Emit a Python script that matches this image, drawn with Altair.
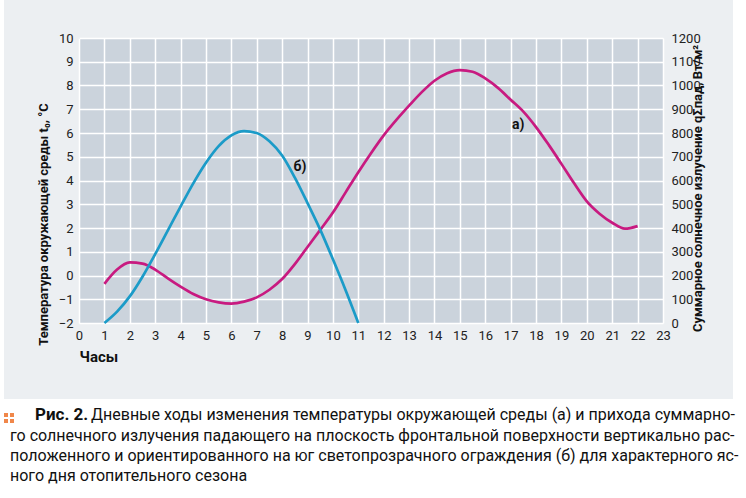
import altair as alt
import pandas as pd

# --- data ---
hours_a = [1, 1.5, 2, 2.5, 3, 3.5, 4, 4.5, 5, 5.5, 6, 6.5, 7, 7.5, 8, 8.5, 9, 9.5,
           10, 10.5, 11, 11.5, 12, 12.5, 13, 13.5, 14, 14.5, 15, 15.5, 16, 16.5,
           17, 17.5, 18, 18.5, 19, 19.5, 20, 20.5, 21, 21.5, 22]
temp_a = [-0.35, 0.25, 0.55, 0.5, 0.25, -0.12, -0.47, -0.78, -1.0, -1.13, -1.18, -1.1,
          -0.92, -0.6, -0.15, 0.48, 1.2, 1.92, 2.65, 3.5, 4.35, 5.15, 5.9, 6.55, 7.15,
          7.72, 8.2, 8.52, 8.65, 8.58, 8.3, 7.9, 7.4, 6.9, 6.25, 5.5, 4.7, 3.88,
          3.12, 2.6, 2.22, 1.97, 2.08]

hours_b = [1, 1.5, 2, 2.5, 3, 3.5, 4, 4.5, 5, 5.5, 6, 6.5, 7, 7.5, 8, 8.5, 9, 9.5,
           10, 10.5, 11]
rad_b = [0, 48, 112, 195, 290, 390, 490, 588, 675, 745, 790, 808, 800, 765, 705,
         612, 505, 393, 268, 138, 0]

label_texts = ["а)", "б)"]
label_hours = [17.3, 8.7]
label_temps = [6.35, 4.55]

x_ticks = list(range(0, 24))
t_ticks = list(range(-2, 11))
q_ticks = list(range(0, 1300, 100))

caption_bold = "Рис. 2."
caption_lines = [
    "Дневные ходы изменения температуры окружающей среды (а) и прихода суммарно-",
    "го солнечного излучения падающего на плоскость фронтальной поверхности вертикально рас-",
    "положенного и ориентированного на юг светопрозрачного ограждения (б) для характерного яс-",
    "ного дня отопительного сезона",
]

FONT = "Roboto"
MAGENTA = "#c81a80"
BLUE = "#1b9bc8"
W, H = 584, 285

df_a = pd.DataFrame({"hour": hours_a, "temp": temp_a})
df_b = pd.DataFrame({"hour": hours_b, "rad": rad_b})
df_lab = pd.DataFrame({"hour": label_hours, "temp": label_temps, "txt": label_texts})
one = pd.DataFrame({"k": [0]})

x_enc = alt.X(
    "hour:Q",
    scale=alt.Scale(domain=[0, 23], nice=False),
    axis=alt.Axis(
        values=x_ticks, format="d", title="Часы", titleX=0, titleY=33, titleAlign="left",
        titleBaseline="middle", titleFont=FONT, titleFontSize=15, titleFontWeight="bold",
        titleColor="#111", labelFont=FONT, labelFontSize=13, labelColor="#222",
        labelPadding=6, ticks=False, domain=False, grid=True, gridColor="white",
        gridWidth=1.5, gridOpacity=1, labelFlush=False, labelOverlap=False,
    ),
)

y_temp = alt.Y(
    "temp:Q",
    scale=alt.Scale(domain=[-2, 10], nice=False),
    axis=alt.Axis(
        values=t_ticks, format="d", title="Температура окружающей среды t₀, °C",
        titleAngle=270, titleX=-36, titleY=186, titleAlign="center",
        titleBaseline="middle", titleFont=FONT, titleFontSize=13,
        titleFontWeight="bold", titleColor="#111", labelFont=FONT, labelFontSize=13,
        labelColor="#222", labelPadding=6, ticks=False, domain=False, grid=True,
        gridColor="white", gridWidth=1.5, gridOpacity=1, labelFlush=False,
        labelOverlap=False,
    ),
)

y_rad = alt.Y(
    "rad:Q",
    scale=alt.Scale(domain=[0, 1200], nice=False),
    axis=alt.Axis(
        orient="right", values=q_ticks, format="d",
        title="Суммарное солнечное излучение qΣпад, Вт/м²",
        titleAngle=270, titleX=34, titleY=150, titleAlign="center",
        titleBaseline="middle", titleFont=FONT, titleFontSize=13,
        titleFontWeight="bold", titleColor="#111", labelFont=FONT, labelFontSize=13,
        labelColor="#222", labelPadding=8, ticks=False, domain=False, grid=False,
        labelFlush=False, labelOverlap=False,
    ),
)

# decorative background pieces (white caption band and margins)
bg_bottom = alt.Chart(one).mark_rect(color="white").encode(
    x=alt.value(-79), x2=alt.value(W + 83), y=alt.value(361), y2=alt.value(H + 175)
)
bg_left = alt.Chart(one).mark_rect(color="white").encode(
    x=alt.value(-79), x2=alt.value(-75), y=alt.value(-38), y2=alt.value(H + 175)
)
bg_right = alt.Chart(one).mark_rect(color="white").encode(
    x=alt.value(654), x2=alt.value(W + 83), y=alt.value(-38), y2=alt.value(H + 175)
)

line_a = alt.Chart(df_a).mark_line(
    color=MAGENTA, strokeWidth=2.7, interpolate="monotone"
).encode(x=x_enc, y=y_temp)

labels = alt.Chart(df_lab).mark_text(
    font=FONT, fontSize=14, fontWeight="bold", color="#111"
).encode(x=x_enc, y=y_temp, text="txt:N")

line_b = alt.Chart(df_b).mark_line(
    color=BLUE, strokeWidth=2.7, interpolate="monotone"
).encode(x=x_enc, y=y_rad)

# caption
marker = alt.Chart(pd.DataFrame({"dx": [0, 6, 0, 6], "dy": [0, 0, 6, 6]})).mark_square(
    color="#f0874a", size=16, opacity=1
).encode(
    x=alt.X("px:Q", scale=None), y=alt.Y("py:Q", scale=None)
).transform_calculate(px="datum.dx - 73", py="datum.dy + 377")

cap_bold = alt.Chart(one).mark_text(
    text=caption_bold, font=FONT, fontSize=17, fontWeight="bold", color="#111",
    align="left", baseline="alphabetic"
).encode(x=alt.value(-44), y=alt.value(382))

cap_layers = []
ys = [382, 403, 423, 443]
for i, line in enumerate(caption_lines):
    x0 = 12 if i == 0 else -69
    cap_layers.append(
        alt.Chart(one).mark_text(
            text=line, font=FONT, fontSize=16, color="#111", align="left",
            baseline="alphabetic"
        ).encode(x=alt.value(x0), y=alt.value(ys[i]))
    )

left = alt.layer(line_a, labels)
chart = alt.layer(
    bg_bottom, bg_left, bg_right, left, line_b, marker, cap_bold, *cap_layers
).resolve_scale(y="independent").properties(
    width=W, height=H,
    padding={"left": 79, "top": 38, "right": 83, "bottom": 175},
    autosize=alt.AutoSizeParams(type="none"),
).configure(background="#eceff2").configure_view(fill="#cbd3dc", strokeWidth=0)

chart.save("out.html", embed_options={"renderer": "svg", "actions": False})
